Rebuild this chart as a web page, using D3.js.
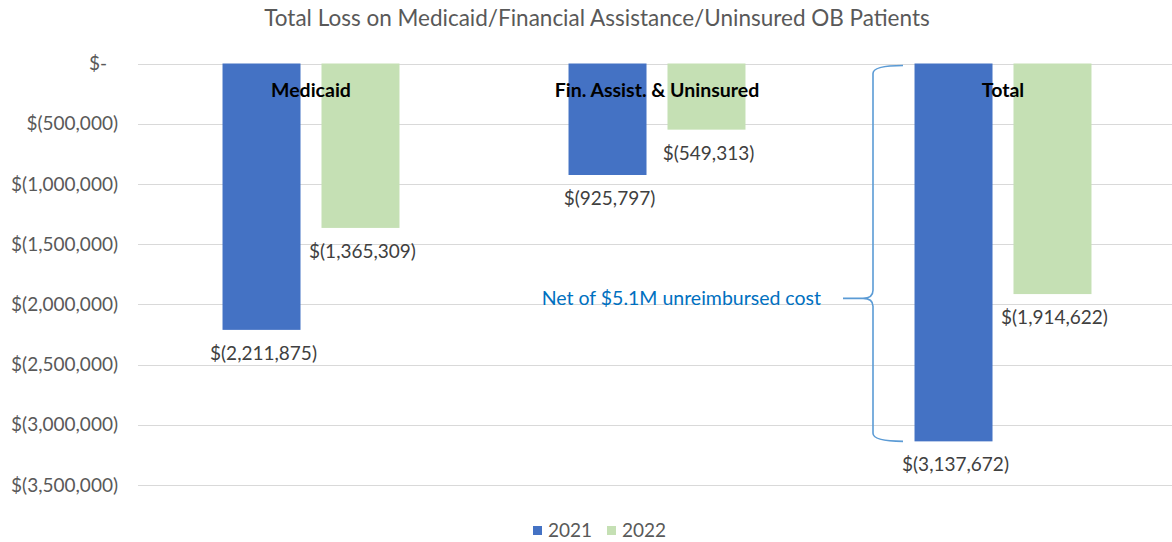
<!DOCTYPE html>
<html>
<head>
<meta charset="utf-8">
<script src="https://cdn.jsdelivr.net/npm/d3@7"></script>
<style>
  body { margin: 0; background: white; }
  svg { font-family: Lato, "Open Sans", sans-serif; }
</style>
</head>
<body>
<div id="chart"></div>
<script>
// chart data
const categories = ['Medicaid', 'Fin. Assist. & Uninsured', 'Total'];
const years = ['2021', '2022'];
const values2021 = [-2211875, -925797, -3137672];
const values2022 = [-1365309, -549313, -1914622];
const yTicks = [0, -500000, -1000000, -1500000, -2000000, -2500000, -3000000, -3500000];
const titleText = 'Total Loss on Medicaid/Financial Assistance/Uninsured OB Patients';
const noteText = 'Net of $5.1M unreimbursed cost';

const width = 1172, height = 542;
const colors = {'2021': '#4472C4', '2022': '#C5E0B4'};

const svg = d3.select('#chart').append('svg')
    .attr('width', width)
    .attr('height', height);

// scales
const x = d3.scaleBand()
    .domain(categories)
    .range([138, 1176])
    .paddingInner(0)
    .paddingOuter(0);
const xSub = d3.scaleBand()
    .domain(years)
    .range([0, x.bandwidth()])
    .paddingInner(0.212)
    .paddingOuter(0.854);
const y = d3.scaleLinear()
    .domain([0, -3500000])
    .range([63.5, 485]);

// currency format like $(1,000,000)
const fmt = v => v === 0 ? '$-' : '$(' + d3.format(',')(Math.abs(v)) + ')';

// title
svg.append('text')
    .attr('x', 597)
    .attr('y', 26)
    .attr('text-anchor', 'middle')
    .attr('fill', '#595959')
    .style('font-size', '22.5px')
    .text(titleText);

// gridlines
svg.append('g')
    .selectAll('line')
    .data(yTicks)
    .join('line')
    .attr('x1', 138)
    .attr('x2', width)
    .attr('y1', d => Math.round(y(d)) + 0.5)
    .attr('y2', d => Math.round(y(d)) + 0.5)
    .attr('stroke', '#d9d9d9')
    .attr('stroke-width', 1);

// y axis labels
const yAxis = d3.axisLeft(y)
    .tickValues(yTicks)
    .tickFormat(fmt)
    .tickSize(0)
    .tickPadding(0);
const yg = svg.append('g')
    .attr('transform', 'translate(118,0)')
    .call(yAxis);
yg.select('.domain').remove();
yg.selectAll('text')
    .attr('fill', '#595959')
    .style('font-size', '19px')
    .style('font-family', 'Lato, "Open Sans", sans-serif');
// the zero label sits left of the others
yg.selectAll('.tick text').filter(d => d === 0).attr('x', -11);

// bars
const rows = categories.map((c, i) => ({cat: c, vals: [
    {year: '2021', value: values2021[i]},
    {year: '2022', value: values2022[i]}
]}));

const groups = svg.append('g')
    .selectAll('g.cat')
    .data(rows)
    .join('g')
    .classed('cat', true)
    .attr('transform', d => `translate(${x(d.cat)},0)`);

groups.selectAll('rect')
    .data(d => d.vals)
    .join('rect')
    .attr('x', d => xSub(d.year))
    .attr('width', xSub.bandwidth())
    .attr('y', y(0))
    .attr('height', d => y(d.value) - y(0))
    .attr('fill', d => colors[d.year]);

// value labels under each bar
groups.selectAll('text.val')
    .data(d => d.vals)
    .join('text')
    .classed('val', true)
    .attr('x', d => xSub(d.year) + xSub.bandwidth() / 2 + 2)
    .attr('y', d => y(d.value) + 30)
    .attr('text-anchor', 'middle')
    .attr('fill', '#404040')
    .style('font-size', '19px')
    .text(d => fmt(d.value));

// category labels inside the plot
groups.append('text')
    .attr('x', x.bandwidth() / 2)
    .attr('y', 97)
    .attr('text-anchor', 'middle')
    .attr('fill', '#000')
    .style('font-size', '19.5px')
    .style('font-weight', 'bold')
    .text(d => d.cat);

// brace annotation around the 2021 total
const braceX = 873;
const braceTop = y(0) + 2, braceBottom = y(values2021[2]);
const braceMid = y(-1950000);
const brace = d3.path();
brace.moveTo(braceX + 30, braceTop);
brace.quadraticCurveTo(braceX, braceTop, braceX, braceTop + 8);
brace.lineTo(braceX, braceMid - 8);
brace.quadraticCurveTo(braceX, braceMid, braceX - 10, braceMid);
brace.lineTo(braceX - 30, braceMid);
brace.moveTo(braceX - 10, braceMid);
brace.quadraticCurveTo(braceX, braceMid, braceX, braceMid + 8);
brace.lineTo(braceX, braceBottom - 8);
brace.quadraticCurveTo(braceX, braceBottom, braceX + 30, braceBottom);
svg.append('path')
    .attr('d', brace.toString())
    .attr('fill', 'none')
    .attr('stroke', '#5B9BD5')
    .attr('stroke-width', 1.6);

svg.append('text')
    .attr('x', 821)
    .attr('y', braceMid + 7)
    .attr('text-anchor', 'end')
    .attr('fill', '#0070C0')
    .style('font-size', '19.5px')
    .text(noteText);

// legend
const legend = svg.append('g')
    .attr('transform', 'translate(533,526)');
const items = legend.selectAll('g')
    .data(years)
    .join('g')
    .attr('transform', (d, i) => `translate(${i * 74},0)`);
items.append('rect')
    .attr('width', 9)
    .attr('height', 9)
    .attr('fill', d => colors[d]);
items.append('text')
    .attr('x', 15)
    .attr('y', 11)
    .attr('fill', '#595959')
    .style('font-size', '19px')
    .text(d => d);
</script>
</body>
</html>
